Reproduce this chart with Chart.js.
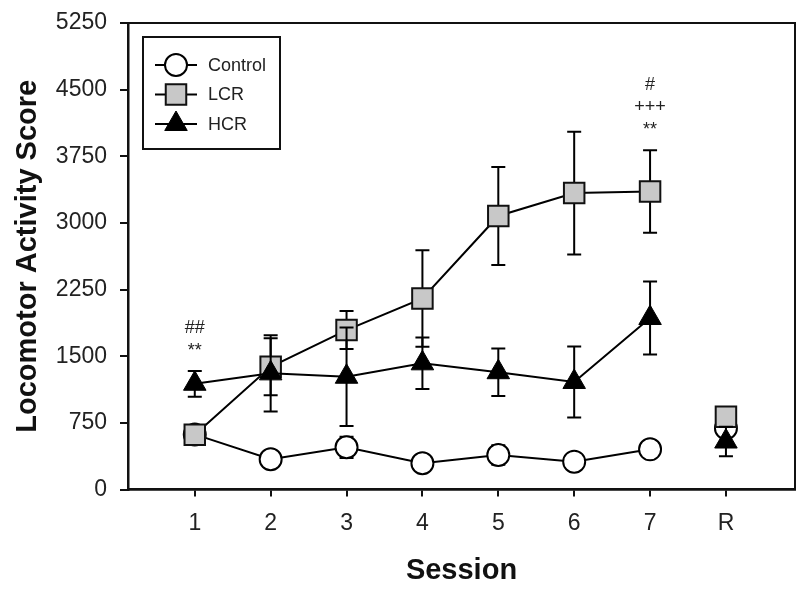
<!DOCTYPE html>
<html>
<head>
<meta charset="utf-8">
<script src="https://cdn.jsdelivr.net/npm/chart.js@4/dist/chart.umd.min.js"></script>
<style>
  body { margin: 0; background: #fff; }
  #wrap { width: 800px; height: 591px; }
</style>
</head>
<body>
<div id="wrap"><canvas id="chart" width="800" height="591"></canvas></div>
<script>
// --- DATA ---
const sessions = ['1', '2', '3', '4', '5', '6', '7', 'R'];
const yTicks = [0, 750, 1500, 2250, 3000, 3750, 4500, 5250];

const controlMean = [620, 340, 475, 295, 388, 313, 452, 690];
const controlSem  = [50, 40, 120, 40, 110, 40, 40, 80];

const lcrMean = [615, 1381, 1794, 2150, 3078, 3336, 3354, 819];
const lcrSem  = [110, 320, 214, 543, 552, 690, 465, 60];

const hcrMean = [1190, 1307, 1269, 1420, 1320, 1210, 1930, 540];
const hcrSem  = [145, 430, 555, 290, 268, 400, 410, 165];

// significance marks, listed bottom to top, anchored to a session
const marks = [
    { session: '1', lines: ['**', '##'] },
    { session: '7', lines: ['**', '+++', '#'] }
];

const FONT = "'Liberation Sans', Arial, sans-serif";

function toPoints(values) {
    return values.map((v, i) => ({ x: i + 1, y: v }));
}

// hide the joining segment between session 7 and R
const noLineToR = {
    borderColor: ctx => ctx.p1DataIndex === sessions.length - 1 ? 'rgba(0,0,0,0)' : '#000'
};

// --- PLUGINS ---

// error bars, drawn just before each dataset so later series sit on top
const errorBars = {
    id: 'errorBars',
    beforeDatasetDraw(chart, args) {
        const ds = chart.data.datasets[args.index];
        if (!ds.errors) return;
        const ctx = chart.ctx;
        const y = chart.scales.y;
        ctx.save();
        ctx.strokeStyle = '#000';
        ctx.lineWidth = 2;
        args.meta.data.forEach((pt, i) => {
            const v = ds.data[i].y;
            const e = ds.errors[i];
            const top = y.getPixelForValue(v + e);
            const bot = y.getPixelForValue(v - e);
            ctx.beginPath();
            ctx.moveTo(pt.x, top);
            ctx.lineTo(pt.x, bot);
            ctx.moveTo(pt.x - 7, top);
            ctx.lineTo(pt.x + 7, top);
            ctx.moveTo(pt.x - 7, bot);
            ctx.lineTo(pt.x + 7, bot);
            ctx.stroke();
        });
        ctx.restore();
    }
};

// frame around the plot + legend box + significance marks
const extras = {
    id: 'extras',
    afterDatasetsDraw(chart) {
        const ctx = chart.ctx;
        const area = chart.chartArea;
        const xs = chart.scales.x;
        const ys = chart.scales.y;

        ctx.save();
        ctx.strokeStyle = '#111';
        ctx.lineWidth = 2;
        ctx.strokeRect(area.left, area.top, area.right - area.left, area.bottom - area.top);

        // legend
        const bx = area.left + 15, by = area.top + 14;
        ctx.lineWidth = 2;
        ctx.strokeStyle = '#111';
        ctx.strokeRect(bx, by, 137, 112);
        const legendOrder = [0, 1, 2];
        legendOrder.forEach((di, row) => {
            const ds = chart.data.datasets[di];
            const cy = by + 28 + row * 29.5;
            const cx = bx + 33;
            ctx.strokeStyle = '#000';
            ctx.lineWidth = 2;
            ctx.beginPath();
            ctx.moveTo(bx + 12, cy);
            ctx.lineTo(bx + 54, cy);
            ctx.stroke();
            ctx.fillStyle = ds.pointBackgroundColor;
            ctx.strokeStyle = ds.pointBorderColor;
            ctx.lineWidth = ds.pointBorderWidth;
            Chart.helpers.drawPoint(ctx, {
                pointStyle: ds.pointStyle,
                radius: ds.pointRadius,
                rotation: 0,
                borderWidth: ds.pointBorderWidth
            }, cx, cy);
            ctx.fillStyle = '#222';
            ctx.font = '18px ' + FONT;
            ctx.textAlign = 'left';
            ctx.textBaseline = 'middle';
            ctx.fillText(ds.label, bx + 65, cy + 1);
        });

        // significance marks above the highest error bar
        ctx.fillStyle = '#222';
        ctx.font = '18px ' + FONT;
        ctx.textAlign = 'center';
        marks.forEach(m => {
            const i = sessions.indexOf(m.session);
            let top = -Infinity;
            chart.data.datasets.forEach(ds => {
                top = Math.max(top, ds.data[i].y + ds.errors[i]);
            });
            const px = xs.getPixelForValue(i + 1);
            const py = ys.getPixelForValue(top);
            m.lines.forEach((t, k) => {
                const isStar = t.indexOf('*') >= 0;
                ctx.textBaseline = 'middle';
                ctx.fillText(t, px, py - 21 - k * 22 + (isStar ? 1 : 0));
            });
        });
        ctx.restore();
    }
};

// --- CHART ---
new Chart(document.getElementById('chart'), {
    type: 'line',
    data: {
        datasets: [
            {
                label: 'Control',
                data: toPoints(controlMean),
                errors: controlSem,
                order: 3,
                borderColor: '#000',
                borderWidth: 2,
                pointStyle: 'circle',
                pointRadius: 11,
                pointBackgroundColor: '#fff',
                pointBorderColor: '#000',
                pointBorderWidth: 2,
                segment: noLineToR
            },
            {
                label: 'LCR',
                data: toPoints(lcrMean),
                errors: lcrSem,
                order: 2,
                borderColor: '#000',
                borderWidth: 2,
                pointStyle: 'rect',
                pointRadius: 14.5,
                pointBackgroundColor: '#c8c8c8',
                pointBorderColor: '#111',
                pointBorderWidth: 2,
                segment: noLineToR
            },
            {
                label: 'HCR',
                data: toPoints(hcrMean),
                errors: hcrSem,
                order: 1,
                borderColor: '#000',
                borderWidth: 2,
                pointStyle: 'triangle',
                pointRadius: 13,
                pointBackgroundColor: '#000',
                pointBorderColor: '#000',
                pointBorderWidth: 1,
                segment: noLineToR
            }
        ]
    },
    options: {
        responsive: false,
        animation: false,
        layout: { autoPadding: false, padding: { top: 23, right: 5, left: 0, bottom: 0 } },
        plugins: { legend: { display: false }, tooltip: { enabled: false } },
        scales: {
            x: {
                type: 'linear',
                min: 0.12,
                max: 8.91,
                afterBuildTicks: s => { s.ticks = sessions.map((_, i) => ({ value: i + 1 })); },
                afterFit: s => { s.height = 101.5; s.paddingLeft = 0; s.paddingRight = 0; },
                ticks: {
                    callback: v => sessions[v - 1],
                    color: '#222',
                    font: { family: FONT, size: 23 },
                    padding: 13,
                    maxRotation: 0,
                    autoSkip: false
                },
                grid: { drawOnChartArea: false, drawTicks: true, tickLength: 7, color: '#111', lineWidth: 2 },
                border: { display: true, color: '#111', width: 2.5 },
                title: {
                    display: true,
                    text: 'Session',
                    color: '#111',
                    font: { family: FONT, size: 29, weight: 'bold' },
                    padding: { bottom: 3 }
                }
            },
            y: {
                min: 0,
                max: 5250,
                afterBuildTicks: s => { s.ticks = yTicks.map(v => ({ value: v })); },
                afterFit: s => { s.width = 128; s.paddingTop = 0; s.paddingBottom = 0; },
                ticks: {
                    callback: v => String(v),
                    color: '#222',
                    font: { family: FONT, size: 23 },
                    padding: 13
                },
                grid: { drawOnChartArea: false, drawTicks: true, tickLength: 8, color: '#111', lineWidth: 2 },
                border: { display: true, color: '#111', width: 2.5 },
                title: {
                    display: true,
                    text: 'Locomotor Activity Score',
                    color: '#111',
                    font: { family: FONT, size: 29, weight: 'bold' },
                    padding: { top: 11 }
                }
            }
        }
    },
    plugins: [errorBars, extras]
});
</script>
</body>
</html>
